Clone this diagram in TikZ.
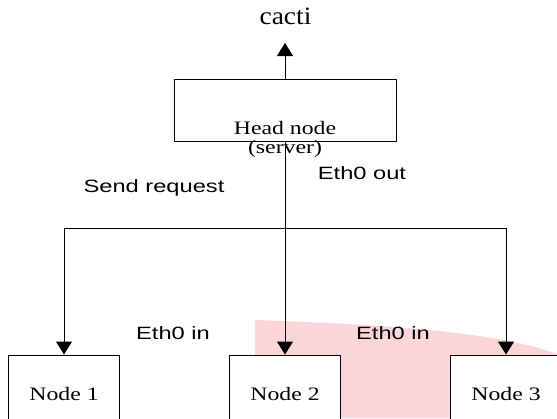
\documentclass[tikz,border=0pt]{standalone}
\usepackage{fontspec}
\usetikzlibrary{arrows.meta}
\newfontfamily\serifst[FakeStretch=1.25]{Liberation Serif}
\newfontfamily\cactifont[FakeStretch=1.1]{Liberation Serif}
\newfontfamily\sansst[FakeStretch=1.33]{Liberation Sans}
\definecolor{pinkbg}{RGB}{252,213,217}
\tikzset{
  box/.style={draw, line width=0.9pt, fill=white, inner sep=0pt},
  nodebox/.style={box, minimum width=111pt, minimum height=77pt, font=\serifst\fontsize{19}{21}\selectfont},
  arr/.style={line width=0.9pt, -{Triangle[width=16pt,length=13pt]}},
  ln/.style={line width=0.9pt},
  lbl/.style={inner sep=0pt, font=\sansst\fontsize{17.8}{20}\selectfont},
  slbl/.style={inner sep=0pt, font=\serifst\fontsize{19}{21}\selectfont}
}
\begin{document}
\begin{tikzpicture}[x=1pt,y=-1pt]
\useasboundingbox (0,0) rectangle (557,418);
\clip (0,0) rectangle (557,418);
\fill[pinkbg] (255,320) .. controls (400,325) and (500,333) .. (557,354) -- (557,418) -- (255,418) -- cycle;
% head box
\node[box, minimum width=222pt, minimum height=62pt] (head) at (285,110) {};
\node[inner sep=0pt, font=\cactifont\fontsize{25}{27}\selectfont] (cacti) at (285.5,16) {cacti};
\coordinate (ctip) at (285,43);
\draw[arr] (head.north) -- (ctip);
% nodes
\node[nodebox] (n1) at (64,393.5) {Node 1};
\node[nodebox] (n2) at (285,393.5) {Node 2};
\node[nodebox] (n3) at (506,393.5) {Node 3};
\coordinate (jm) at (285,228);
\draw[arr] (head.south) -- (n2.north);
\draw[arr] (jm) -| (n1.north);
\draw[arr] (jm) -| (n3.north);
\node[slbl] (hn) at (285,127.5) {Head node};
\node[slbl] (srv) at (285,149) {(server)};
% labels
\node[lbl] (send) at (154,188) {Send request};
\node[lbl] (eout) at (362,173) {Eth0 out};
\node[lbl] (ein1) at (173,333) {Eth0 in};
\node[lbl] (ein2) at (393,333) {Eth0 in};
\end{tikzpicture}
\end{document}
